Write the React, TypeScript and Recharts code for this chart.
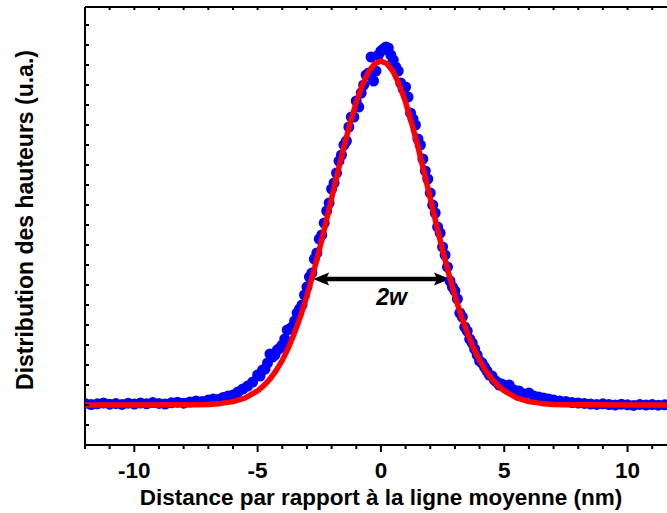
import React from 'react';
import { ComposedChart, Scatter, XAxis, YAxis, ReferenceLine } from 'recharts';

// measured profile (blue dots), distance in nm vs height distribution (a.u.)
const bluePoints: [number, number][] = [
  [-12, 0.08], [-11.75, 0.02], [-11.5, 0.06], [-11.25, 0.1], [-11, 0.04], [-10.75, 0.07],
  [-10.5, 0.03], [-10.25, 0.09], [-10, 0.05], [-9.75, 0.1], [-9.5, 0.06], [-9.25, 0.12],
  [-9, 0.08], [-8.75, 0.05], [-8.5, 0.11], [-8.25, 0.14], [-8, 0.09], [-7.75, 0.15],
  [-7.5, 0.2], [-7.25, 0.18], [-7, 0.25], [-6.8, 0.3], [-6.6, 0.28], [-6.4, 0.38],
  [-6.2, 0.45], [-6, 0.5], [-5.8, 0.65], [-5.6, 0.8], [-5.4, 0.95], [-5.2, 1.15],
  [-5, 1.5], [-4.9, 1.45], [-4.8, 1.75], [-4.7, 1.8], [-4.6, 2.1], [-4.5, 2.55],
  [-4.4, 2.4], [-4.3, 2.5], [-4.2, 2.75], [-4.1, 2.85], [-4, 3.0], [-3.9, 3.3],
  [-3.8, 3.75], [-3.7, 3.8], [-3.6, 3.9], [-3.5, 4.2], [-3.4, 4.6], [-3.3, 4.8],
  [-3.2, 5.0], [-3.1, 5.5], [-3, 5.9], [-2.9, 6.4], [-2.8, 6.6], [-2.7, 7.3],
  [-2.6, 7.6], [-2.5, 8.3], [-2.4, 8.5], [-2.3, 9.1], [-2.2, 9.7], [-2.1, 10.1],
  [-2, 10.8], [-1.9, 11.1], [-1.8, 11.6], [-1.7, 12.2], [-1.6, 12.5], [-1.5, 13.0],
  [-1.4, 13.2], [-1.3, 13.9], [-1.2, 14.4], [-1.1, 14.4], [-1, 15.2], [-0.9, 14.9],
  [-0.8, 15.6], [-0.7, 16.0], [-0.6, 16.5], [-0.5, 16.6], [-0.4, 17.4], [-0.3, 16.2],
  [-0.2, 16.7], [-0.1, 17.5], [0, 17.7], [0.1, 17.8], [0.2, 17.9], [0.3, 17.85],
  [0.4, 17.5], [0.5, 17.25], [0.6, 16.9], [0.7, 16.7], [0.8, 16.1], [0.9, 15.8],
  [1, 15.9], [1.1, 15.4], [1.2, 14.6], [1.3, 14.3], [1.4, 14.0], [1.5, 13.3],
  [1.6, 13.0], [1.7, 12.3], [1.8, 11.7], [1.9, 11.3], [2, 10.6], [2.1, 10.0],
  [2.2, 9.6], [2.3, 8.9], [2.4, 8.6], [2.5, 7.9], [2.6, 7.5], [2.7, 6.9],
  [2.8, 6.2], [2.9, 5.9], [3, 5.7], [3.1, 5.3], [3.2, 4.6], [3.3, 4.4],
  [3.4, 3.9], [3.5, 3.7], [3.6, 3.3], [3.7, 3.1], [3.8, 2.8], [3.9, 2.5],
  [4, 2.2], [4.1, 2.1], [4.2, 1.9], [4.3, 1.7], [4.4, 1.5], [4.5, 1.45],
  [4.6, 1.25], [4.7, 1.15], [4.8, 1.0], [4.9, 1.05], [5, 0.9], [5.2, 1.0],
  [5.4, 0.75], [5.6, 0.7], [5.8, 0.55], [6, 0.6], [6.2, 0.45], [6.4, 0.4],
  [6.6, 0.35], [6.8, 0.3], [7, 0.25], [7.25, 0.2], [7.5, 0.18], [7.75, 0.12],
  [8, 0.1], [8.25, 0.08], [8.5, 0.05], [8.75, 0.03], [9, 0.06], [9.25, 0.02],
  [9.5, 0], [9.75, 0.04], [10, 0.01], [10.25, -0.02], [10.5, 0.03], [10.75, 0],
  [11, 0.02], [11.25, -0.01], [11.5, 0.01],
];

// gaussian fit (red curve)
const fitPoints: [number, number][] = [
  [-12, 0], [-10, 0], [-8, 0.01], [-7.5, 0.01], [-7, 0.03], [-6.5, 0.08], [-6, 0.17],
  [-5.5, 0.36], [-5, 0.71], [-4.75, 0.97], [-4.5, 1.3], [-4.25, 1.72], [-4, 2.23],
  [-3.75, 2.86], [-3.5, 3.61], [-3.25, 4.47], [-3, 5.46], [-2.75, 6.56], [-2.5, 7.75],
  [-2.25, 9.02], [-2, 10.33], [-1.75, 11.64], [-1.5, 12.91], [-1.25, 14.09], [-1, 15.14],
  [-0.75, 16.01], [-0.5, 16.66], [-0.25, 17.06], [0, 17.2], [0.25, 17.06], [0.5, 16.66],
  [0.75, 16.01], [1, 15.14], [1.25, 14.09], [1.5, 12.91], [1.75, 11.64], [2, 10.33],
  [2.25, 9.02], [2.5, 7.75], [2.75, 6.56], [3, 5.46], [3.25, 4.47], [3.5, 3.61],
  [3.75, 2.86], [4, 2.23], [4.25, 1.72], [4.5, 1.3], [4.75, 0.97], [5, 0.71],
  [5.5, 0.36], [6, 0.17], [6.5, 0.08], [7, 0.03], [7.5, 0.01], [8, 0.01], [10, 0], [11.6, 0],
];

const xTicks = [-12, -11, -10, -9, -8, -7, -6, -5, -4, -3, -2, -1, 0, 1, 2, 3, 4, 5, 6, 7, 8, 9, 10, 11];
const yTicks = [-2, -1, 0, 1, 2, 3, 4, 5, 6, 7, 8, 9, 10, 11, 12, 13, 14, 15, 16, 17, 18, 19];
const xDomain = [-12, 11.6];
const yDomain = [-2, 19.9];

// the "2w" width marker
const arrowSpan = [-2.75, 2.8];
const arrowLevel = 6.3;
const arrowLabel = '2w';

const xTitle = 'Distance par rapport à la ligne moyenne (nm)';
const yTitle = 'Distribution des hauteurs (u.a.)';

const FONT = '"Liberation Sans", Arial, sans-serif';

const blueData = bluePoints.map(([x, y]) => ({ x, y }));
const fitData = fitPoints.map(([x, y]) => ({ x, y }));

const BottomTick = ({ x, y, payload }: any) => {
  const major = payload.value % 5 === 0;
  return (
    <g>
      <line x1={x} x2={x} y1={y} y2={y + (major ? 7 : 4)} stroke="#000" strokeWidth={2} />
      {major && (
        <text x={x} y={y + 33} textAnchor="middle" fontFamily={FONT} fontWeight="bold" fontSize={22.5} fill="#000">
          {payload.value}
        </text>
      )}
    </g>
  );
};

const TopTick = ({ x, y }: any) => (
  <line x1={x} x2={x} y1={y} y2={y + 3} stroke="#000" strokeWidth={2} />
);

const LeftTick = ({ x, y }: any) => (
  <line x1={x} x2={x + 4} y1={y} y2={y} stroke="#000" strokeWidth={2} />
);

const Dot = ({ cx, cy }: any) => <circle cx={cx} cy={cy} r={5.5} fill="#0000ff" />;
const NoDot = () => <g />;

const ArrowShape = (props: any) => {
  const { x1, y1, x2 } = props;
  const y = y1;
  const head = 16;
  const half = 6.5;
  return (
    <g>
      <line x1={x1 + head - 4} x2={x2 - head + 4} y1={y} y2={y} stroke="#000" strokeWidth={4.5} />
      <polygon points={`${x1},${y} ${x1 + head},${y - half} ${x1 + head - 3},${y} ${x1 + head},${y + half}`} fill="#000" />
      <polygon points={`${x2},${y} ${x2 - head},${y - half} ${x2 - head + 3},${y} ${x2 - head},${y + half}`} fill="#000" />
      <text
        x={(x1 + x2) / 2 + 10}
        y={y + 26}
        textAnchor="middle"
        fontFamily={FONT}
        fontWeight="bold"
        fontStyle="italic"
        fontSize={23}
        fill="#000"
      >
        {arrowLabel}
      </text>
    </g>
  );
};

export default function App() {
  return (
    <div style={{ position: 'absolute', left: 0, top: 0, width: 667, height: 513, background: '#fff' }}>
      <ComposedChart width={667} height={513} margin={{ top: 0, right: 0, bottom: 0, left: 0 }}>
        <XAxis
          xAxisId="bottom"
          dataKey="x"
          type="number"
          domain={xDomain}
          allowDataOverflow
          ticks={xTicks}
          interval={0}
          height={68}
          tickSize={0}
          tickMargin={0}
          tickLine={false}
          tick={<BottomTick />}
          axisLine={{ stroke: '#000', strokeWidth: 2 }}
          label={{
            content: ({ viewBox }: any) => (
              <text
                x={viewBox.x + viewBox.width / 2 + 5}
                y={viewBox.y + 60}
                textAnchor="middle"
                fontFamily={FONT}
                fontWeight="bold"
                fontSize={22.5}
                fill="#000"
              >
                {xTitle}
              </text>
            ),
          }}
        />
        <XAxis
          xAxisId="top"
          orientation="top"
          dataKey="x"
          type="number"
          domain={xDomain}
          allowDataOverflow
          ticks={xTicks}
          interval={0}
          height={7}
          tickSize={0}
          tickMargin={0}
          tickLine={false}
          tick={<TopTick />}
          axisLine={{ stroke: '#000', strokeWidth: 2 }}
        />
        <YAxis
          dataKey="y"
          type="number"
          domain={yDomain}
          allowDataOverflow
          ticks={yTicks}
          interval={0}
          width={85}
          tickSize={0}
          tickMargin={0}
          tickLine={false}
          tick={<LeftTick />}
          axisLine={{ stroke: '#000', strokeWidth: 2 }}
          label={{
            content: () => (
              <text
                x={33}
                y={220}
                transform="rotate(-90, 33, 220)"
                textAnchor="middle"
                fontFamily={FONT}
                fontWeight="bold"
                fontSize={23}
                fill="#000"
              >
                {yTitle}
              </text>
            ),
          }}
        />
        <Scatter xAxisId="bottom" data={blueData} dataKey="y" shape={<Dot />} isAnimationActive={false} />
        <Scatter
          xAxisId="bottom"
          data={fitData}
          dataKey="y"
          shape={<NoDot />}
          line={{ stroke: '#ff0000', strokeWidth: 5.5, strokeLinejoin: 'round', strokeLinecap: 'round' }}
          lineType="joint"
          isAnimationActive={false}
        />
        <ReferenceLine
          xAxisId="bottom"
          segment={[
            { x: arrowSpan[0], y: arrowLevel },
            { x: arrowSpan[1], y: arrowLevel },
          ]}
          shape={ArrowShape}
        />
      </ComposedChart>
    </div>
  );
}
